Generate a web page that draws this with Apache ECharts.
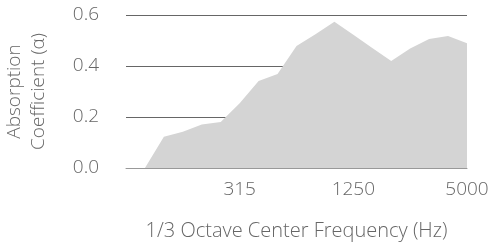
<!DOCTYPE html>
<html>
<head>
<meta charset="utf-8">
<script src="https://cdn.jsdelivr.net/npm/echarts@6/dist/echarts.min.js"></script>
<style>
  html, body { margin: 0; padding: 0; background: #fff; }
  #container { width: 492px; height: 244px; }
</style>
</head>
<body>
<div id="container"></div>
<script>
// 1/3 octave bands (Hz); 80 Hz band has no measurement
var frequencies = ['80', '100', '125', '160', '200', '250', '315', '400', '500', '630',
  '800', '1000', '1250', '1600', '2000', '2500', '3150', '4000', '5000'];
var absorption = ['-', 0, 0.123, 0.142, 0.171, 0.18, 0.254, 0.341, 0.369, 0.478,
  0.525, 0.574, 0.523, 0.471, 0.42, 0.469, 0.506, 0.518, 0.489];
var shownLabels = ['315', '1250', '5000'];

var textColor = '#666';
var fontFamily = '"Open Sans", Roboto, sans-serif';

var dom = document.getElementById('container');
var myChart = echarts.init(dom, null, { renderer: 'canvas' });
var option = {
  animation: false,
  grid: { left: 126, right: 25, top: 15, bottom: 76, outerBoundsMode: 'none', containLabel: false },
  xAxis: {
    type: 'category',
    data: frequencies,
    boundaryGap: false,
    name: '1/3 Octave Center Frequency (Hz)',
    nameLocation: 'middle',
    nameGap: 53,
    nameTextStyle: { color: textColor, fontSize: 20, fontFamily: fontFamily, fontWeight: 300 },
    axisLine: { lineStyle: { color: '#999', width: 1 } },
    axisTick: { show: false },
    axisLabel: {
      interval: 0,
      margin: 12,
      color: textColor,
      fontSize: 19,
      fontFamily: fontFamily,
      fontWeight: 300,
      formatter: function (v) {
        return shownLabels.indexOf(v) >= 0 ? v : '';
      }
    },
    splitLine: { show: false }
  },
  yAxis: {
    type: 'value',
    min: 0,
    max: 0.6,
    interval: 0.2,
    name: 'Absorption\nCoefficient (α)',
    nameLocation: 'middle',
    nameGap: 75,
    nameRotate: 90,
    nameTextStyle: { color: textColor, fontSize: 19, fontFamily: fontFamily, fontWeight: 300, lineHeight: 24 },
    axisLine: { show: false },
    axisTick: { show: false },
    axisLabel: {
      margin: 27,
      color: textColor,
      fontSize: 19,
      fontFamily: fontFamily,
      fontWeight: 300,
      formatter: function (v) { return v.toFixed(1); }
    },
    splitLine: { lineStyle: { color: '#666', width: 1 } }
  },
  series: [
    {
      type: 'line',
      data: absorption,
      symbol: 'none',
      lineStyle: { width: 0 },
      areaStyle: { color: '#d4d4d4', opacity: 1 }
    }
  ]
};

myChart.setOption(option);
window.addEventListener('resize', myChart.resize);
</script>
</body>
</html>
